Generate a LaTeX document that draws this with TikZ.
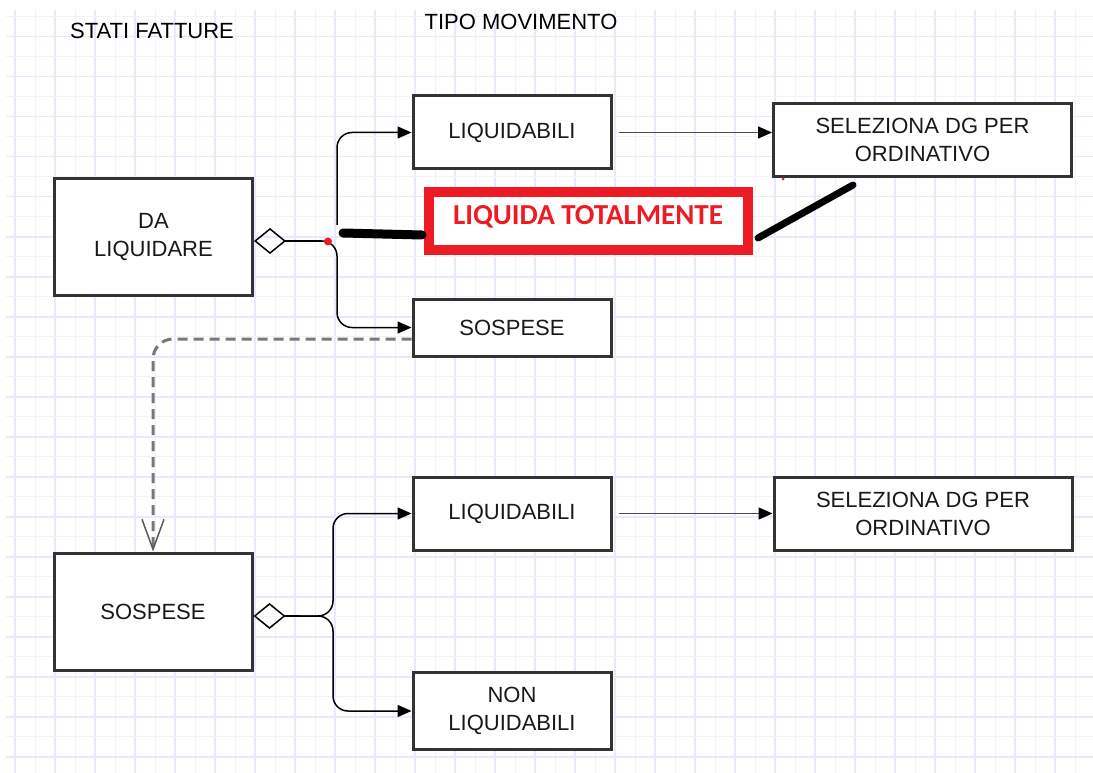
\documentclass[tikz,border=0pt]{standalone}
\usepackage{fontspec}
\setmainfont{Liberation Sans}
\newfontfamily\carlito{Carlito}
\usetikzlibrary{arrows.meta}
\usetikzlibrary{positioning}
\definecolor{gridblue}{RGB}{232,232,255}
\definecolor{gridpale}{RGB}{242,242,255}
\definecolor{boxgray}{RGB}{51,51,51}
\definecolor{markred}{RGB}{237,28,36}
\definecolor{dashgray}{RGB}{120,120,120}
\tikzset{block/.style={rectangle,draw=boxgray,line width=3pt,fill=white,minimum width=198pt,minimum height=73pt,inner sep=0pt,align=center,text=black!90,font=\fontsize{22}{28}\selectfont}}
\tikzset{bigblock/.style={block,minimum height=117pt}}

\begin{document}
\begin{tikzpicture}[x=1pt, y=-1pt,
    arrow/.style={-{Triangle[length=14pt,width=12pt,color=black]},line width=1.5pt,rounded corners=15pt},
    rhomb/.style={{Diamond[open,length=32pt,width=26pt]}-,line width=1.5pt},
    dashline/.style={-{Straight Barb[length=30pt,width=22pt,line width=1.5pt,color=black!65]},draw=dashgray,line width=3pt,dash pattern=on 10pt off 6pt,rounded corners=20pt},
    stroke/.style={line width=9pt,line cap=round},
    totbox/.style={rectangle,draw=markred,line width=10pt,fill=white,minimum width=319pt,minimum height=57.5pt,inner sep=0pt,text height=10pt,text depth=1.5pt,text=markred,font=\carlito\bfseries\fontsize{29}{32}\selectfont},
    ]
    \useasboundingbox (0,0) rectangle (1093,773);

    % grid paper
    \foreach \gx in {15,55,...,1095} \draw[gridblue,line width=1.6pt] (\gx,10) -- (\gx,773);
    \foreach \gx in {35,75,...,1075} \draw[gridpale,line width=1pt] (\gx,10) -- (\gx,773);
    \foreach \gy in {36.7,76.7,...,757} \draw[gridblue,line width=1.6pt] (6,\gy) -- (1093,\gy);
    \foreach \gy in {16.7,56.7,...,737} \draw[gridpale,line width=1pt] (6,\gy) -- (1093,\gy);

    % Column titles
    \node[font=\fontsize{22}{28}\selectfont] (stati) at (152,31) {STATI FATTURE};
    \node[font=\fontsize{22}{28}\selectfont] (tipo) at (521,22) {TIPO MOVIMENTO};

    % Da liquidare
    \node[bigblock] (dal) at (153.5,237) {DA\\LIQUIDARE};
    \node[block] (liqA) at (512,132.5) {LIQUIDABILI};
    \node[block,minimum width=298pt] (selA) at (922.5,140) {SELEZIONA DG PER\\ORDINATIVO};
    \node[block,minimum height=57pt] (sosA) at (512,327.5) {SOSPESE};
    \node[totbox] (tot) at (588,220.75) {LIQUIDA TOTALMENTE};

    \coordinate (split1) at (322,241);
    \coordinate (branch1) at (337,225);
    \draw[rhomb] ([yshift=-4pt]dal.east) -- (split1);
    \draw[arrow] (branch1) |- (liqA.west);
    \draw[arrow] (split1) -| (branch1 |- sosA.west) -- (sosA.west);
    \draw[arrow,draw=black!70] ([xshift=6pt]liqA.east) -- (selA.west |- liqA.east);
    \fill[markred] (split1) ++(6pt,-0.5pt) circle (4pt);

    % hand-drawn marks
    \coordinate (markA1) at (343,233);
    \coordinate (markA2) at (422,235);
    \coordinate (markB1) at (758,238);
    \coordinate (markB2) at (853,185);
    \draw[stroke] (markA1) -- (markA2);
    \draw[stroke,line width=7pt] (markB1) -- (markB2);
    \fill[markred] (783,179) circle (1.5pt);

    % Sospese
    \node[bigblock] (sosB) at (153,611.5) {SOSPESE};
    \node[block] (liqB) at (512,513.5) {LIQUIDABILI};
    \node[block,minimum width=298pt] (selB) at (923,513.5) {SELEZIONA DG PER\\ORDINATIVO};
    \node[block,minimum height=77pt] (nonliq) at (512,711) {NON\\LIQUIDABILI};

    \coordinate (stem2) at (300,616);
    \coordinate (split2) at (333,616);
    \draw[rhomb] ([yshift=-4.5pt]sosB.east) -- (stem2);
    \draw[arrow] (stem2) -| (split2 |- liqB.west) -- (liqB.west);
    \draw[arrow] (stem2) -| (split2 |- nonliq.west) -- (nonliq.west);
    \draw[arrow,draw=black!70] ([xshift=6pt]liqB.east) -- (selB.west |- liqB.east);

    % link between the two states
    \draw[dashline] ([yshift=-11.5pt]sosA.west) -| (sosB.north);

\end{tikzpicture}
\end{document}
